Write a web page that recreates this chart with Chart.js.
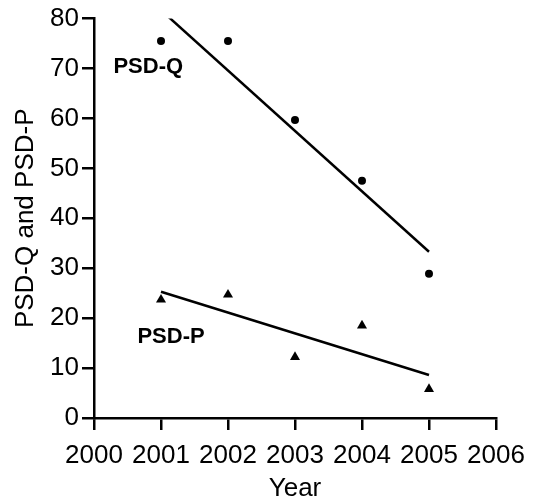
<!DOCTYPE html>
<html lang="en">
<head>
    <meta charset="UTF-8">
    <title>PSD-Q and PSD-P by Year</title>
    <script src="https://cdn.jsdelivr.net/npm/chart.js"></script>
    <style>
        body {
            margin: 0;
            padding: 0;
            background-color: #fff;
        }

        .chart-container {
            position: relative;
            width: 538px;
            height: 503px;
        }
    </style>
</head>
<body>
    <div class="chart-container">
        <canvas id="psdChart"></canvas>
    </div>

    <script>
        // Survey years and observed values
        const years = [2001, 2002, 2003, 2004, 2005];
        const psdQ = [75.5, 75.5, 59.7, 47.5, 28.9];
        const psdP = [23.7, 24.7, 12.2, 18.5, 5.8];

        // Fitted trend lines (values at first and last year)
        const fitYears = [2001, 2005];
        const psdQFit = [81.7, 33.3];
        const psdPFit = [25.3, 8.6];

        const xTicks = [2000, 2001, 2002, 2003, 2004, 2005, 2006];
        const yTicks = [0, 10, 20, 30, 40, 50, 60, 70, 80];

        const toPoints = (xs, ys) => xs.map((x, i) => ({ x: x, y: ys[i] }));

        Chart.defaults.color = '#000';
        Chart.defaults.font.family = '"Liberation Sans", Arial, sans-serif';

        // Series names written inside the plot
        const seriesLabels = {
            id: 'seriesLabels',
            afterDatasetsDraw(chart) {
                const { ctx, scales: { x, y } } = chart;
                ctx.save();
                ctx.fillStyle = '#000';
                ctx.font = 'bold 22px "Liberation Sans", Arial, sans-serif';
                ctx.textAlign = 'center';
                ctx.textBaseline = 'middle';
                ctx.fillText('PSD-Q', x.getPixelForValue(2000.81), y.getPixelForValue(70.3));
                ctx.fillText('PSD-P', x.getPixelForValue(2001.15), y.getPixelForValue(16.3));
                ctx.restore();
            }
        };

        const axisLine = { display: true, color: '#000', width: 2.5 };
        const tickMarks = {
            display: true,
            drawOnChartArea: false,
            drawTicks: true,
            tickLength: 12,
            color: '#000',
            lineWidth: 2.5
        };
        const labelFont = { size: 26 };
        const titleFont = { size: 26, lineHeight: 1.1 };

        const ctx = document.getElementById('psdChart').getContext('2d');
        new Chart(ctx, {
            type: 'scatter',
            data: {
                datasets: [
                    {
                        label: 'PSD-Q',
                        data: toPoints(years, psdQ),
                        pointStyle: 'circle',
                        pointRadius: 4,
                        backgroundColor: '#000',
                        borderColor: '#000',
                        borderWidth: 0
                    },
                    {
                        label: 'PSD-P',
                        data: toPoints(years, psdP),
                        pointStyle: 'triangle',
                        pointRadius: 5.8,
                        backgroundColor: '#000',
                        borderColor: '#000',
                        borderWidth: 0
                    },
                    {
                        type: 'line',
                        label: 'PSD-Q fit',
                        data: toPoints(fitYears, psdQFit),
                        borderColor: '#000',
                        borderWidth: 2.5,
                        pointRadius: 0,
                        clip: 0
                    },
                    {
                        type: 'line',
                        label: 'PSD-P fit',
                        data: toPoints(fitYears, psdPFit),
                        borderColor: '#000',
                        borderWidth: 2.5,
                        pointRadius: 0,
                        clip: 0
                    }
                ]
            },
            options: {
                responsive: true,
                maintainAspectRatio: false,
                animation: false,
                layout: {
                    padding: { left: 0, top: 15, right: 42, bottom: 0 }
                },
                plugins: {
                    legend: { display: false },
                    tooltip: { enabled: false }
                },
                scales: {
                    x: {
                        type: 'linear',
                        min: 2000,
                        max: 2006,
                        afterBuildTicks: (scale) => {
                            scale.ticks = xTicks.map(v => ({ value: v }));
                        },
                        afterFit: (scale) => {
                            scale.height = 85;
                        },
                        ticks: {
                            font: labelFont,
                            padding: 10,
                            maxRotation: 0,
                            callback: (value) => String(value)
                        },
                        grid: tickMarks,
                        border: axisLine,
                        title: {
                            display: true,
                            text: 'Year',
                            font: titleFont,
                            padding: 0
                        }
                    },
                    y: {
                        min: 0,
                        max: 80,
                        afterBuildTicks: (scale) => {
                            scale.ticks = yTicks.map(v => ({ value: v }));
                        },
                        afterFit: (scale) => {
                            scale.width = 94;
                        },
                        ticks: {
                            font: labelFont,
                            padding: 3
                        },
                        grid: tickMarks,
                        border: axisLine,
                        title: {
                            display: true,
                            text: 'PSD-Q and PSD-P',
                            font: titleFont,
                            padding: { top: 12, bottom: 0 }
                        }
                    }
                }
            },
            plugins: [seriesLabels]
        });
    </script>
</body>
</html>
